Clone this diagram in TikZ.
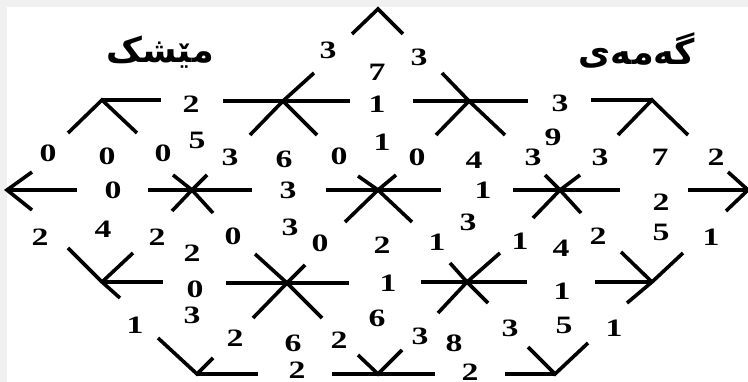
\documentclass[tikz,border=0pt]{standalone}
\usepackage{fontspec}
\setmainfont{Liberation Serif}
\newfontfamily\arabicfont[Script=Arabic]{DejaVu Sans}
\TeXXeTstate=1
\newcommand{\dg}[1]{\scalebox{1.35}[1]{\bfseries\fontsize{25}{25}\selectfont #1}}
\tikzset{
  num/.style={inner sep=0pt, anchor=center},
  ln/.style={line width=3.6pt, line cap=butt, line join=miter},
  ttl/.style={inner sep=0pt, font=\arabicfont\bfseries\fontsize{35}{35}\selectfont}
}
\begin{document}
\begin{tikzpicture}[x=1pt,y=-1pt]
\useasboundingbox (0,0) rectangle (748,382);
\fill[black!6] (0,0) rectangle (748,382);
\fill[white] (7,7) rectangle (748,382);
% vertices
\coordinate (T) at (378,9);
\coordinate (A1) at (102,100);
\coordinate (B1) at (283,101);
\coordinate (C1) at (469,101);
\coordinate (D1) at (652,100);
\coordinate (L) at (7,190);
\coordinate (A2) at (192,190);
\coordinate (B2) at (378,190);
\coordinate (C2) at (560,190);
\coordinate (R) at (748,190);
\coordinate (A3) at (102,282);
\coordinate (B3) at (287,283);
\coordinate (C3) at (467,282);
\coordinate (D3) at (652,282);
\coordinate (A4) at (197,374);
\coordinate (B4) at (378,374);
\coordinate (C4) at (555,374);
% lines
\draw[ln] (352,34) -- (T) -- (403,34);
\draw[ln] (68,133) -- (A1) -- (137,133);
\draw[ln] (A1) -- (161,100);
\draw[ln] (223,101) -- (350,101);
\draw[ln] (B1) -- (314,73);
\draw[ln] (B1) -- (250,135);
\draw[ln] (B1) -- (317,135);
\draw[ln] (413,101) -- (528,101);
\draw[ln] (C1) -- (442,73);
\draw[ln] (C1) -- (436,135);
\draw[ln] (C1) -- (505,135);
\draw[ln] (591,100) -- (D1);
\draw[ln] (618,135) -- (D1) -- (688,135);
% row 2
\draw[ln] (L) -- (77,190);
\draw[ln] (32,172) -- (L) -- (32,210);
\draw[ln] (148,190) -- (252,190);
\draw[ln] (173,175) -- (A2) -- (213,213);
\draw[ln] (207,175) -- (A2) -- (172,211);
\draw[ln] (326,190) -- (441,190);
\draw[ln] (358,176) -- (B2) -- (412,222);
\draw[ln] (396,175) -- (B2) -- (345,222);
\draw[ln] (513,190) -- (620,190);
\draw[ln] (545,175) -- (C2) -- (581,213);
\draw[ln] (580,175) -- (C2) -- (533,218);
\draw[ln] (688,190) -- (R);
\draw[ln] (728,172) -- (R) -- (726,211);
% row 3
\draw[ln] (68,248) -- (A3) -- (120,298);
\draw[ln] (A3) -- (133,253);
\draw[ln] (A3) -- (163,282);
\draw[ln] (226,283) -- (349,283);
\draw[ln] (255,254) -- (B3) -- (322,318);
\draw[ln] (305,265) -- (B3) -- (253,318);
\draw[ln] (421,282) -- (527,282);
\draw[ln] (450,263) -- (C3) -- (488,303);
\draw[ln] (500,253) -- (C3) -- (438,313);
\draw[ln] (595,282) -- (D3);
\draw[ln] (621,252) -- (D3);
\draw[ln] (683,253) -- (D3) -- (627,303);
% row 4
\draw[ln] (158,338) -- (A4) -- (213,358);
\draw[ln] (A4) -- (258,374);
\draw[ln] (332,374) -- (435,374);
\draw[ln] (358,355) -- (B4) -- (402,350);
\draw[ln] (505,374) -- (C4);
\draw[ln] (528,347) -- (C4) -- (588,343);
% titles
\node[ttl] (t1) at (160,52) {\beginR مێشک\endR};
\node[ttl] (t2) at (637,50) {\beginR گەمەی\endR};
% numbers
\node[num] (n1) at (328,50) {\dg{3}};
\node[num] (n2) at (377,72) {\dg{7}};
\node[num] (n3) at (419,57) {\dg{3}};
\node[num] (n4) at (191,104) {\dg{2}};
\node[num] (n5) at (377,104) {\dg{1}};
\node[num] (n6) at (560,103) {\dg{3}};
\node[num] (n7) at (48,153) {\dg{0}};
\node[num] (n8) at (107,156) {\dg{0}};
\node[num] (n9) at (163,153) {\dg{0}};
\node[num] (n10) at (197,140) {\dg{5}};
\node[num] (n11) at (230,157) {\dg{3}};
\node[num] (n12) at (284,159) {\dg{6}};
\node[num] (n13) at (339,156) {\dg{0}};
\node[num] (n14) at (382,142) {\dg{1}};
\node[num] (n15) at (417,157) {\dg{0}};
\node[num] (n16) at (474,160) {\dg{4}};
\node[num] (n17) at (533,157) {\dg{3}};
\node[num] (n18) at (553,137) {\dg{9}};
\node[num] (n19) at (600,157) {\dg{3}};
\node[num] (n20) at (660,157) {\dg{7}};
\node[num] (n21) at (716,157) {\dg{2}};
\node[num] (n22) at (113,190) {\dg{0}};
\node[num] (n23) at (288,190) {\dg{3}};
\node[num] (n24) at (483,190) {\dg{1}};
\node[num] (n25) at (661,202) {\dg{2}};
\node[num] (n26) at (40,237) {\dg{2}};
\node[num] (n27) at (103,229) {\dg{4}};
\node[num] (n28) at (157,237) {\dg{2}};
\node[num] (n29) at (233,236) {\dg{0}};
\node[num] (n30) at (192,253) {\dg{2}};
\node[num] (n31) at (290,227) {\dg{3}};
\node[num] (n32) at (320,243) {\dg{0}};
\node[num] (n33) at (382,245) {\dg{2}};
\node[num] (n34) at (437,242) {\dg{1}};
\node[num] (n35) at (468,222) {\dg{3}};
\node[num] (n36) at (520,241) {\dg{1}};
\node[num] (n37) at (561,248) {\dg{4}};
\node[num] (n38) at (598,236) {\dg{2}};
\node[num] (n39) at (661,232) {\dg{5}};
\node[num] (n40) at (711,237) {\dg{1}};
\node[num] (n41) at (195,289) {\dg{0}};
\node[num] (n42) at (388,283) {\dg{1}};
\node[num] (n43) at (562,291) {\dg{1}};
\node[num] (n44) at (192,315) {\dg{3}};
\node[num] (n45) at (135,325) {\dg{1}};
\node[num] (n46) at (235,338) {\dg{2}};
\node[num] (n47) at (377,318) {\dg{6}};
\node[num] (n48) at (293,343) {\dg{6}};
\node[num] (n49) at (339,340) {\dg{2}};
\node[num] (n50) at (420,336) {\dg{3}};
\node[num] (n51) at (454,343) {\dg{8}};
\node[num] (n52) at (510,328) {\dg{3}};
\node[num] (n53) at (564,325) {\dg{5}};
\node[num] (n54) at (614,328) {\dg{1}};
\node[num] (n55) at (297,370) {\dg{2}};
\node[num] (n56) at (470,372) {\dg{2}};
\end{tikzpicture}
\end{document}
